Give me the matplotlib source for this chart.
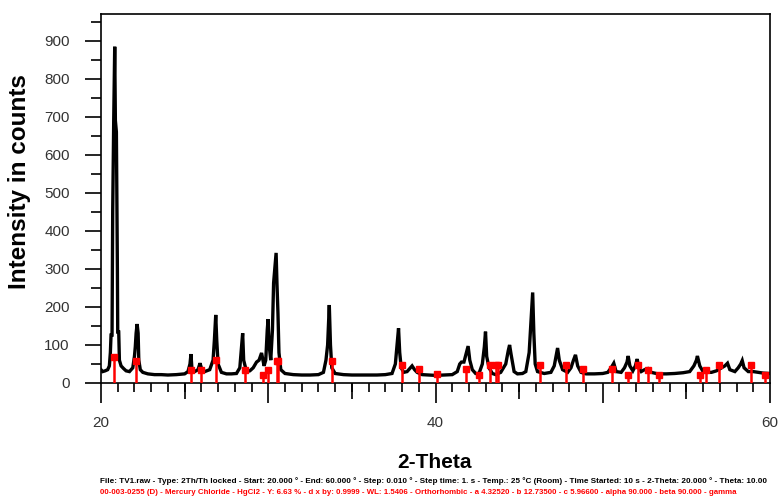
import matplotlib
matplotlib.use("Agg")
import matplotlib.pyplot as plt
from matplotlib.ticker import MultipleLocator, FixedLocator, FuncFormatter

plt.rcParams['font.family'] = ['Liberation Sans', 'DejaVu Sans']

# Measured scan profile: 2-Theta (deg) and intensity (counts)
two_theta = [
    20.00, 20.10, 20.25, 20.40, 20.50, 20.56, 20.60, 20.66, 20.70, 20.76,
    20.82, 20.86, 20.92, 20.98, 21.00, 21.06, 21.10, 21.20, 21.35, 21.50,
    21.70, 21.90, 22.00, 22.05, 22.10, 22.16, 22.22, 22.26, 22.35, 22.50,
    22.80, 23.20, 23.60, 24.00, 24.50, 25.00, 25.20, 25.32, 25.38, 25.44,
    25.60, 25.80, 25.92, 26.00, 26.20, 26.50, 26.70, 26.78, 26.86, 26.92,
    27.00, 27.20, 27.50, 27.80, 28.10, 28.30, 28.40, 28.47, 28.53, 28.70,
    28.90, 29.10, 29.30, 29.45, 29.60, 29.75, 29.85, 29.94, 29.99, 30.05,
    30.15, 30.25, 30.32, 30.47, 30.52, 30.58, 30.64, 30.75, 31.00, 31.50,
    32.00, 32.50, 33.00, 33.30, 33.45, 33.55, 33.65, 33.72, 33.80, 34.00,
    34.50, 35.00, 35.50, 36.00, 36.50, 37.00, 37.40, 37.60, 37.70, 37.79,
    37.86, 37.95, 38.10, 38.30, 38.50, 38.60, 38.75, 38.90, 39.20, 39.60,
    40.00, 40.50, 41.00, 41.30, 41.45, 41.55, 41.70, 41.85, 41.95, 42.05,
    42.20, 42.40, 42.60, 42.80, 42.92, 42.99, 43.06, 43.20, 43.40, 43.60,
    43.90, 44.20, 44.35, 44.43, 44.52, 44.70, 44.90, 45.20, 45.40, 45.60,
    45.73, 45.81, 45.88, 45.96, 46.10, 46.50, 46.90, 47.10, 47.25, 47.30,
    47.40, 47.60, 47.90, 48.10, 48.25, 48.37, 48.50, 48.70, 49.00, 49.50,
    50.00, 50.30, 50.50, 50.66, 50.80, 51.10, 51.30, 51.45, 51.52, 51.62,
    51.80, 51.95, 52.06, 52.15, 52.30, 52.50, 52.70, 52.90, 53.30, 53.80,
    54.30, 54.80, 55.20, 55.45, 55.60, 55.66, 55.80, 56.00, 56.20, 56.50,
    56.80, 57.10, 57.30, 57.46, 57.60, 57.90, 58.10, 58.25, 58.34, 58.45,
    58.70, 59.00, 59.30, 59.60, 60.00,
]
counts = [
    35, 30, 32, 35, 45, 80, 126, 126, 453, 690,
    884, 690, 660, 300, 134, 134, 60, 45, 38, 32,
    30, 40, 70, 95, 131, 155, 131, 60, 35, 28,
    24, 22, 22, 21, 22, 24, 30, 50, 76, 35,
    30, 35, 52, 40, 30, 35, 60, 113, 179, 113,
    50, 28, 24, 24, 25, 40, 92, 131, 60, 30,
    32, 40, 55, 60, 79, 45, 60, 139, 168, 100,
    60, 139, 263, 342, 263, 184, 80, 35, 25, 22,
    21, 21, 22, 28, 60, 100, 205, 100, 40, 25,
    22, 21, 21, 21, 21, 22, 25, 50, 100, 144,
    80, 40, 28, 30, 40, 45, 35, 28, 22, 21,
    20, 21, 22, 30, 50, 55, 55, 80, 97, 60,
    35, 25, 25, 50, 95, 135, 70, 40, 25, 22,
    28, 50, 85, 100, 75, 30, 24, 25, 30, 80,
    175, 238, 131, 50, 30, 25, 28, 45, 80, 92,
    60, 35, 28, 40, 60, 74, 45, 28, 24, 24,
    25, 28, 40, 52, 30, 28, 40, 55, 71, 45,
    32, 45, 63, 40, 30, 35, 38, 28, 24, 24,
    25, 27, 30, 45, 60, 71, 45, 30, 28, 28,
    32, 40, 45, 52, 35, 30, 40, 50, 59, 40,
    30, 30, 28, 26, 25,
]

# Reference pattern 00-003-0255 (HgCl2): stick positions and heights
ref_theta = [20.76, 22.08, 25.40, 25.96, 26.88, 28.58, 29.71, 30.00, 30.52, 30.58,
             33.79, 37.99, 39.03, 40.08, 41.83, 42.63, 43.27, 43.62, 43.76, 46.27,
             47.78, 48.83, 50.53, 51.48, 52.12, 52.70, 53.34, 55.80, 56.19, 56.93,
             58.88, 59.70]
ref_counts = [69, 59, 35, 35, 60, 34, 22, 35, 59, 59,
              59, 47, 37, 24, 37, 21, 47, 47, 47, 47,
              47, 36, 37, 22, 47, 35, 22, 22, 35, 47,
              47, 22]

y_ticks = [0, 100, 200, 300, 400, 500, 600, 700, 800, 900]
x_labelled = [20, 40, 60]

info_line = ("File: TV1.raw - Type: 2Th/Th locked - Start: 20.000 \u00b0 - End: 60.000 \u00b0 - "
             "Step: 0.010 \u00b0 - Step time: 1. s - Temp.: 25 \u00b0C (Room) - Time Started: 10 s - "
             "2-Theta: 20.000 \u00b0 - Theta: 10.00")
ref_line = ("00-003-0255 (D) - Mercury Chloride - HgCl2 - Y: 6.63 % - d x by: 0.9999 - "
            "WL: 1.5406 - Orthorhombic - a 4.32520 - b 12.73500 - c 5.96600 - "
            "alpha 90.000 - beta 90.000 - gamma")

fig = plt.figure(figsize=(7.81, 5.0), dpi=100)
ax = fig.add_axes([101 / 781, 1 - 383 / 500, (770 - 101) / 781, (383 - 14) / 500])

ax.plot(two_theta, counts, color='black', lw=2.4, solid_joinstyle='miter', zorder=2)

# reference sticks with square caps
ax.vlines(ref_theta, 0, ref_counts, colors='#ff0000', lw=1.8, zorder=3)
ax.plot(ref_theta, ref_counts, ls='none', marker='s', ms=4, color='#ff0000',
        mec='#ff0000', zorder=4)

ax.set_xlim(20, 60)
ax.set_ylim(0, 970)

for s in ax.spines.values():
    s.set_linewidth(1.2)
    s.set_color('black')

# y ticks
ax.yaxis.set_major_locator(FixedLocator(y_ticks))
ax.yaxis.set_minor_locator(MultipleLocator(50))
ax.tick_params(axis='y', which='major', direction='out', length=11.5, width=1.2,
               pad=11, labelsize=11, labelcolor='#333333')
ax.tick_params(axis='y', which='minor', direction='out', length=7, width=1.2)

# x ticks: long every 10, short every 1, medium every 5 (secondary axis)
ax.xaxis.set_major_locator(MultipleLocator(10))
ax.xaxis.set_major_formatter(FuncFormatter(
    lambda v, p: f"{v:.0f}" if round(v) in x_labelled else ""))
ax.xaxis.set_minor_locator(MultipleLocator(1))
ax.tick_params(axis='x', which='major', direction='out', length=14.5, width=1.2,
               pad=9, labelsize=11, labelcolor='#333333')
ax.tick_params(axis='x', which='minor', direction='out', length=6.5, width=1.2)

sec = ax.secondary_xaxis('bottom')
sec.set_xticks([25, 35, 45, 55])
sec.set_xticklabels([])
sec.tick_params(axis='x', direction='out', length=11.5, width=1.2)
sec.spines['bottom'].set_visible(False)

fig.text(434 / 781, 1 - 462 / 500, '2-Theta', ha='center', va='center',
         fontsize=15, fontweight='bold')
fig.text(20 / 781, 1 - 182 / 500, 'Intensity in counts', ha='center', va='center',
         rotation=90, fontsize=17.5, fontweight='bold')

fig.text(100 / 781, 1 - 481 / 500, info_line, ha='left', va='center',
         fontsize=5.85, fontweight='bold', color='black')
fig.text(100 / 781, 1 - 492 / 500, ref_line, ha='left', va='center',
         fontsize=5.7, fontweight='bold', color='#ff0000')

fig.savefig('out.png', dpi=100)
